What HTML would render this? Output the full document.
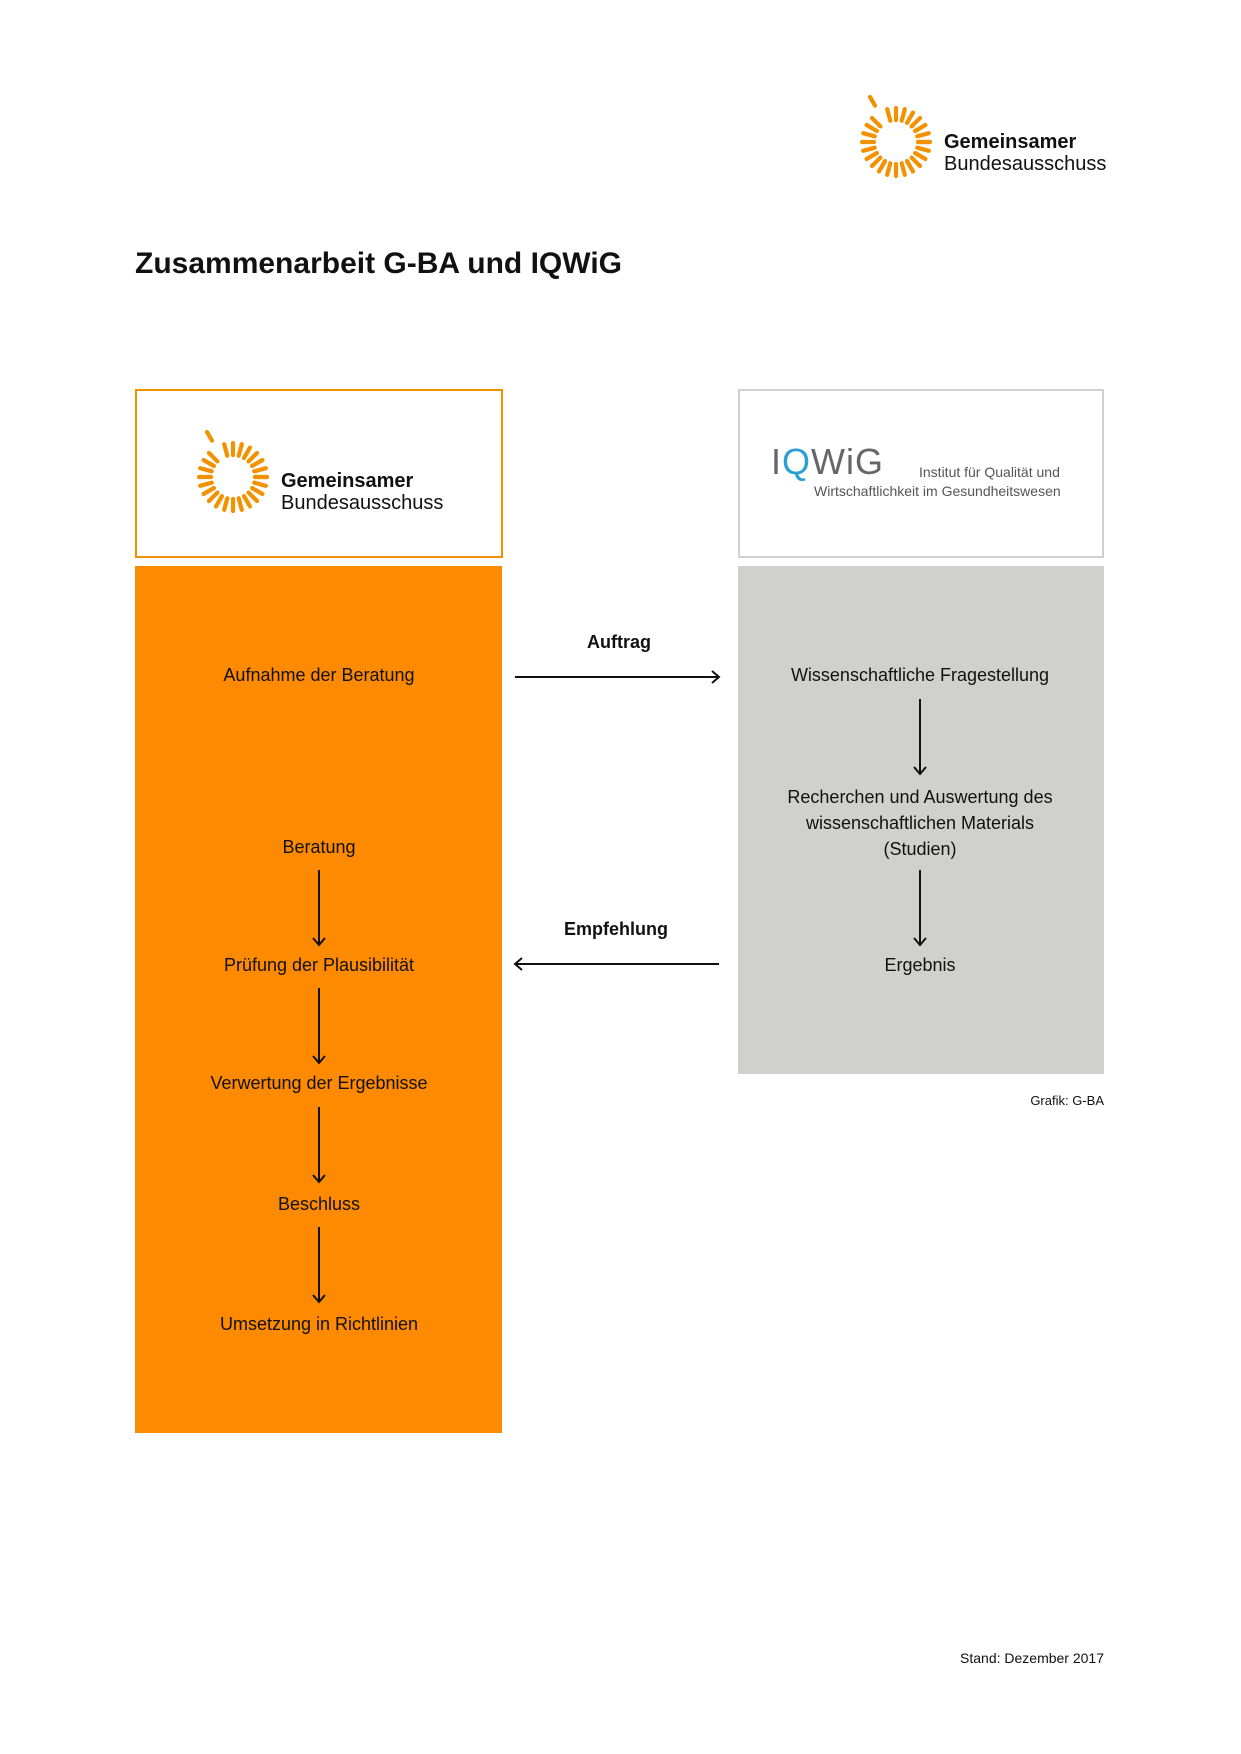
<!DOCTYPE html>
<html><head><meta charset="utf-8">
<style>
body{margin:0;width:1241px;height:1754px;background:#fff;position:relative;font-family:"Liberation Sans",sans-serif;color:#111;overflow:hidden}
.a{position:absolute}
.c{position:absolute;text-align:center;font-size:18px;line-height:25px;transform:translateX(-50%);white-space:nowrap}
</style></head><body>
<svg width="0" height="0" style="position:absolute">
<defs>
<g id="sun" stroke="#f39200" stroke-width="4.2" stroke-linecap="round">
<g id="d"><line x1="22" y1="0" x2="34" y2="0"/></g>
<use href="#d" transform="rotate(-105)"/><use href="#d" transform="rotate(-90)"/><use href="#d" transform="rotate(-75)"/><use href="#d" transform="rotate(-60)"/><use href="#d" transform="rotate(-45)"/><use href="#d" transform="rotate(-30)"/><use href="#d" transform="rotate(-15)"/><use href="#d" transform="rotate(0)"/><use href="#d" transform="rotate(15)"/><use href="#d" transform="rotate(30)"/><use href="#d" transform="rotate(45)"/><use href="#d" transform="rotate(60)"/><use href="#d" transform="rotate(75)"/><use href="#d" transform="rotate(90)"/><use href="#d" transform="rotate(105)"/><use href="#d" transform="rotate(120)"/><use href="#d" transform="rotate(135)"/><use href="#d" transform="rotate(150)"/><use href="#d" transform="rotate(165)"/><use href="#d" transform="rotate(180)"/><use href="#d" transform="rotate(195)"/><use href="#d" transform="rotate(210)"/><use href="#d" transform="rotate(225)"/>
<line x1="42" y1="0" x2="52" y2="0" transform="rotate(-120)"/>
</g>
</defs></svg>

<!-- top logo -->
<svg class="a" style="left:846px;top:80px" width="100" height="110"><use href="#sun" transform="translate(50,62)"/></svg>
<div class="a" style="left:944px;top:131px;font-size:20px;font-weight:bold;line-height:22px">Gemeinsamer</div>
<div class="a" style="left:944px;top:153px;font-size:20px;line-height:22px">Bundesausschuss</div>

<div class="a" style="left:135px;top:247px;font-size:30px;font-weight:bold">Zusammenarbeit G-BA und IQWiG</div>

<!-- left header -->
<div class="a" style="left:135px;top:389px;width:364px;height:165px;border:2px solid #f39200"></div>
<svg class="a" style="left:183px;top:415px" width="100" height="110"><use href="#sun" transform="translate(50,62)"/></svg>
<div class="a" style="left:281px;top:470px;font-size:20px;font-weight:bold;line-height:22px">Gemeinsamer</div>
<div class="a" style="left:281px;top:492px;font-size:20px;line-height:22px">Bundesausschuss</div>

<!-- right header -->
<div class="a" style="left:738px;top:389px;width:362px;height:165px;border:2px solid #d0d0d0"></div>
<div class="a" style="left:771px;top:442px;font-size:36px;color:#666;letter-spacing:1px;line-height:40px">I<span style="color:#2a9fd6">Q</span>WiG</div>
<div class="a" style="left:919px;top:464px;font-size:14px;color:#555">Institut für Qualität und</div>
<div class="a" style="left:814px;top:483px;font-size:14px;color:#555">Wirtschaftlichkeit im Gesundheitswesen</div>

<div class="a" style="left:135px;top:566px;width:367px;height:867px;background:#fd8a00"></div>
<div class="a" style="left:738px;top:566px;width:366px;height:508px;background:#d0d0cf"></div>

<div class="c" style="left:319px;top:663px">Aufnahme der Beratung</div>
<div class="c" style="left:319px;top:835px">Beratung</div>
<div class="c" style="left:319px;top:953px">Prüfung der Plausibilität</div>
<div class="c" style="left:319px;top:1071px">Verwertung der Ergebnisse</div>
<div class="c" style="left:319px;top:1192px">Beschluss</div>
<div class="c" style="left:319px;top:1312px">Umsetzung in Richtlinien</div>

<div class="c" style="left:920px;top:663px">Wissenschaftliche Fragestellung</div>
<div class="c" style="left:920px;top:784px;line-height:26px">Recherchen und Auswertung des<br>wissenschaftlichen Materials<br>(Studien)</div>
<div class="c" style="left:920px;top:953px">Ergebnis</div>

<div class="c" style="left:619px;top:630px;font-weight:bold">Auftrag</div>
<div class="c" style="left:616px;top:917px;font-weight:bold">Empfehlung</div>

<svg class="a" style="left:0;top:0" width="1241" height="1754" fill="none" stroke="#111" stroke-width="2">
<g id="va"><line x1="319" y1="870" x2="319" y2="945"/><polyline points="313,938 319,945 325,938"/></g>
<use href="#va" transform="translate(0,118)"/>
<use href="#va" transform="translate(0,237)"/>
<use href="#va" transform="translate(0,357)"/>
<use href="#va" transform="translate(601,-171)"/>
<use href="#va" transform="translate(601,0)"/>
<line x1="515" y1="677" x2="719" y2="677"/><polyline points="712,671 719,677 712,683"/>
<line x1="719" y1="964" x2="515" y2="964"/><polyline points="522,958 515,964 522,970"/>
</svg>

<div class="a" style="right:137px;top:1093px;font-size:13px">Grafik: G-BA</div>
<div class="a" style="right:137px;top:1650px;font-size:14px">Stand: Dezember 2017</div>
</body></html>
